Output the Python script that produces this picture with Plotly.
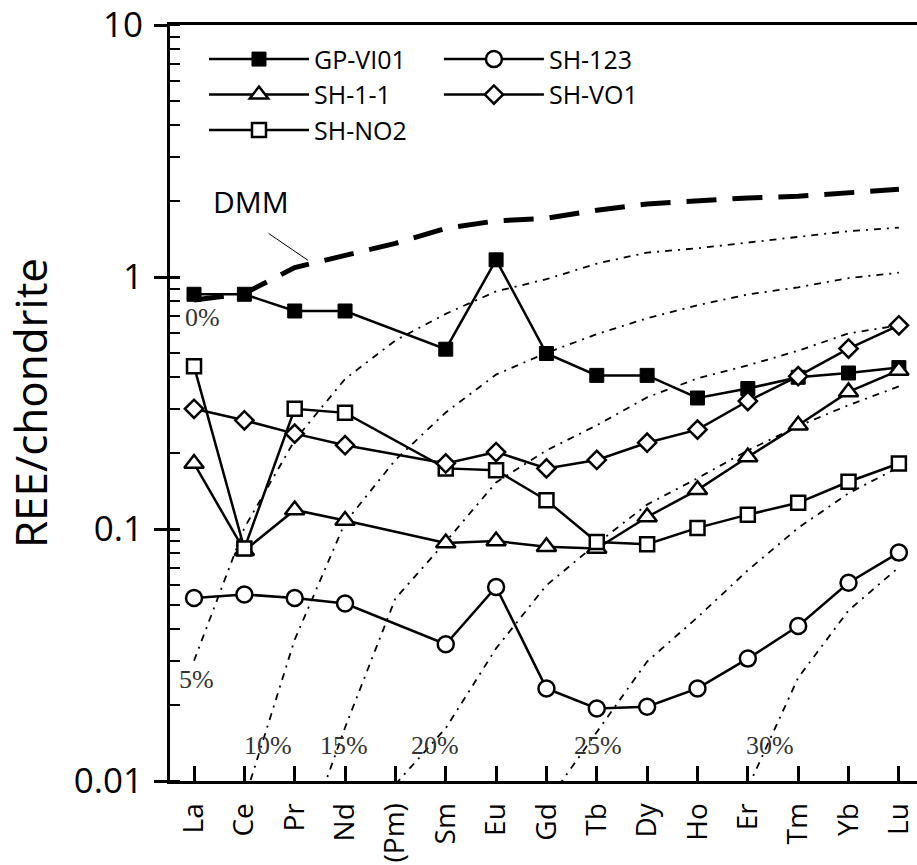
import plotly.graph_objects as go
import math

# ---------------- data ----------------
elements = ["La", "Ce", "Pr", "Nd", "(Pm)", "Sm", "Eu", "Gd", "Tb", "Dy", "Ho", "Er", "Tm", "Yb", "Lu"]

gp_vi01 = [0.854, 0.854, 0.733, 0.733, None, 0.517, 1.17, 0.497, 0.407, 0.407, 0.331, 0.361, 0.400, 0.416, 0.437]
sh_123 = [0.0532, 0.055, 0.0532, 0.0506, None, 0.0349, 0.0589, 0.0233, 0.0194, 0.0197, 0.0233, 0.0306, 0.0412, 0.0612, 0.0806]
sh_1_1 = [0.182, 0.082, 0.119, 0.108, None, 0.088, 0.0896, 0.085, 0.0836, 0.1116, 0.143, 0.193, 0.258, 0.35, 0.426]
sh_vo1 = [0.30, 0.27, 0.239, 0.215, None, 0.182, 0.202, 0.174, 0.188, 0.22, 0.248, 0.322, 0.404, 0.52, 0.643]
sh_no2 = [0.442, 0.0836, 0.30, 0.289, None, 0.174, 0.171, 0.13, 0.0888, 0.087, 0.101, 0.114, 0.127, 0.154, 0.182]

dmm = [0.81, 0.86, 1.09, 1.22, 1.36, 1.56, 1.67, 1.71, 1.84, 1.95, 2.01, 2.06, 2.09, 2.16, 2.23]

melt_5 = [0.030, 0.101, 0.225, 0.394, 0.56, 0.714, 0.877, 0.98, 1.13, 1.25, 1.30, 1.37, 1.45, 1.52, 1.57]
melt_10 = [None, 0.0084, 0.0364, 0.106, 0.188, 0.29, 0.41, 0.50, 0.593, 0.686, 0.772, 0.853, 0.91, 0.99, 1.04]
melt_15 = [None, None, 0.0045, 0.0163, 0.053, 0.089, 0.153, 0.205, 0.258, 0.333, 0.396, 0.446, 0.51, 0.597, 0.643]
melt_20 = [None, None, None, None, 0.0097, 0.0162, 0.0336, 0.0598, 0.0875, 0.125, 0.159, 0.205, 0.256, 0.31, 0.368]
melt_25 = [None, None, None, None, None, None, None, 0.0082, 0.0157, 0.0298, 0.0446, 0.0686, 0.101, 0.1386, 0.176]
melt_30 = [None, None, None, None, None, None, None, None, None, None, None, 0.0094, 0.0257, 0.0475, 0.0705]

melt_labels = ["0%", "5%", "10%", "15%", "20%", "25%", "30%"]
y_tick_vals = [0.01, 0.1, 1, 10]
y_tick_text = ["0.01", "0.1", "1", "10"]

# ---------------- figure ----------------
fig = go.Figure()

melt_line = dict(color="black", width=1.8, dash="7px,6px,2px,6px")
for ys in [melt_5, melt_10, melt_15, melt_20, melt_25, melt_30]:
    fig.add_trace(go.Scatter(x=elements, y=ys, mode="lines", line=melt_line,
                             showlegend=False, hoverinfo="skip"))

fig.add_trace(go.Scatter(x=elements, y=dmm, mode="lines",
                         line=dict(color="black", width=5, dash="30px,16px"),
                         showlegend=False, hoverinfo="skip"))

ml = dict(color="black", width=2.5)
series = [
    ("GP-VI01", gp_vi01, dict(symbol="square", size=14, color="black", line=dict(color="black", width=1)), "legend"),
    ("SH-1-1", sh_1_1, dict(symbol="triangle-up", size=17, color="white", line=ml), "legend"),
    ("SH-NO2", sh_no2, dict(symbol="square", size=14, color="white", line=ml), "legend"),
    ("SH-123", sh_123, dict(symbol="circle", size=16, color="white", line=ml), "legend2"),
    ("SH-VO1", sh_vo1, dict(symbol="diamond", size=14, color="white", line=ml), "legend2"),
]
for name, ys, mk, lg in series:
    fig.add_trace(go.Scatter(x=elements, y=ys, name=name, mode="lines+markers",
                             connectgaps=True, line=dict(color="black", width=2.5),
                             marker=mk, cliponaxis=False, legend=lg))

# y-axis inside part of major ticks
fig.add_trace(go.Scatter(x=[elements[0]], y=[None], yaxis="y2", showlegend=False, hoverinfo="skip"))

serif = dict(family="Liberation Serif, Times New Roman, serif", size=26, color="#333333")
label_pos = [(0.16, 0.69), (0.04, 0.0253), (1.47, 0.01386), (2.98, 0.01386),
             (4.79, 0.01386), (8.03, 0.01386), (11.44, 0.01386)]
annotations = []
for txt, (px, py) in zip(melt_labels, label_pos):
    annotations.append(dict(x=px, y=math.log10(py), xref="x", yref="y", text=txt,
                            showarrow=False, font=serif))
annotations.append(dict(x=1.13, y=0.298, xref="x", yref="y", text="DMM", showarrow=False,
                        font=dict(family="Open Sans", size=30, color="black")))
annotations.append(dict(x=2.265, y=0.066, xref="x", yref="y", text="", showarrow=True,
                        arrowhead=0, arrowwidth=1, arrowcolor="black", ax=-41, ay=-28))

legend_common = dict(orientation="v", yanchor="top", xanchor="left", itemwidth=100,
                     bgcolor="rgba(0,0,0,0)", traceorder="normal",
                     font=dict(family="Open Sans", size=25, color="black"))

fig.update_layout(
    width=917, height=865,
    margin=dict(l=170, r=0, t=25, b=84, autoexpand=False),
    plot_bgcolor="white", paper_bgcolor="white",
    font=dict(family="Open Sans", color="black"),
    showlegend=True,
    legend=dict(x=0.0455, y=0.985, **legend_common),
    legend2=dict(x=0.36, y=0.985, **legend_common),
    annotations=annotations,
    xaxis=dict(type="category", categoryorder="array", categoryarray=elements,
               range=[-0.477, 14.36], showline=True, linecolor="black", linewidth=3,
               mirror=True, ticks="inside", ticklen=15, tickwidth=2.5, tickcolor="black",
               tickangle=-90, tickfont=dict(family="Open Sans", size=28, color="black"),
               ticklabelstandoff=8, showgrid=False, zeroline=False, automargin=False),
    yaxis=dict(type="log", range=[-2, 1], tickmode="array", tickvals=y_tick_vals,
               ticktext=y_tick_text, ticks="outside", ticklen=13, tickwidth=2.5,
               tickcolor="black", showline=True, linecolor="black", linewidth=3,
               tickfont=dict(family="Open Sans", size=35, color="black"),
               ticklabelstandoff=4, automargin=False,
               minor=dict(ticks="inside", ticklen=10, tickwidth=2, tickcolor="black",
                          dtick="D1", showgrid=False),
               showgrid=False, zeroline=False,
               title=dict(text="REE/chondrite", standoff=18,
                          font=dict(family="Open Sans", size=44, color="black"))),
    yaxis2=dict(type="log", range=[-2, 1], overlaying="y", side="left", anchor="x",
                tickmode="array", tickvals=y_tick_vals, ticks="inside", ticklen=10,
                tickwidth=2.5, tickcolor="black", showticklabels=False,
                showgrid=False, zeroline=False, showline=False, automargin=False),
)

fig.write_html("out.html", config={"displayModeBar": False},
               post_script="document.body.style.margin='0px';document.body.style.overflow='hidden';")
